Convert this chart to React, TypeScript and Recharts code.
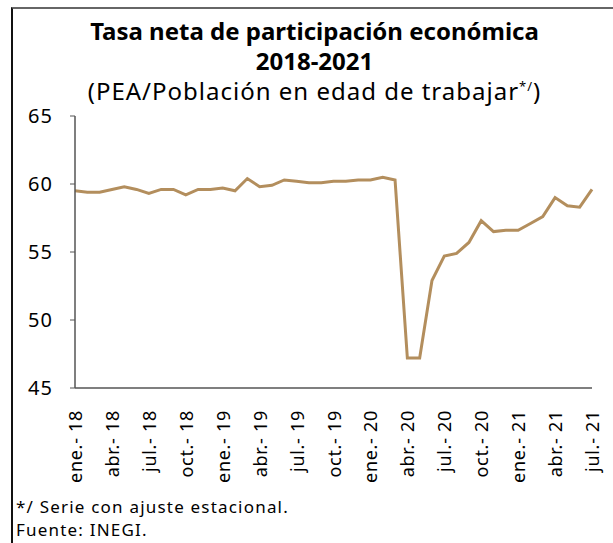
import React from "react";
import { LineChart, Line, XAxis, YAxis } from "recharts";

// meses ene-18 .. jul-21
const months = [
	"ene.- 18", "feb.- 18", "mar.- 18", "abr.- 18", "may.- 18", "jun.- 18",
	"jul.- 18", "ago.- 18", "sep.- 18", "oct.- 18", "nov.- 18", "dic.- 18",
	"ene.- 19", "feb.- 19", "mar.- 19", "abr.- 19", "may.- 19", "jun.- 19",
	"jul.- 19", "ago.- 19", "sep.- 19", "oct.- 19", "nov.- 19", "dic.- 19",
	"ene.- 20", "feb.- 20", "mar.- 20", "abr.- 20", "may.- 20", "jun.- 20",
	"jul.- 20", "ago.- 20", "sep.- 20", "oct.- 20", "nov.- 20", "dic.- 20",
	"ene.- 21", "feb.- 21", "mar.- 21", "abr.- 21", "may.- 21", "jun.- 21",
	"jul.- 21",
];

const tnpe = [
	59.5, 59.4, 59.4, 59.6, 59.8, 59.6, 59.3, 59.6, 59.6, 59.2, 59.6, 59.6,
	59.7, 59.5, 60.4, 59.8, 59.9, 60.3, 60.2, 60.1, 60.1, 60.2, 60.2, 60.3,
	60.3, 60.5, 60.3, 47.2, 47.2, 52.9, 54.7, 54.9, 55.7, 57.3, 56.5, 56.6,
	56.6, 57.1, 57.6, 59.0, 58.4, 58.3, 59.6,
];

const yTicks = [45, 50, 55, 60, 65];

const data = months.map((m, i) => ({ mes: m, valor: tnpe[i] }));

const FONT = "'Noto Sans', sans-serif";

const MonthTick = (props: any) => {
	const { x, y, payload } = props;
	const ty = y + 14;
	return (
		<text
			x={x}
			y={ty}
			transform={`rotate(-90 ${x} ${ty})`}
			textAnchor='end'
			dominantBaseline='central'
			fontSize={18}
			letterSpacing={0.7}
			fontFamily={FONT}
			fill='#000'>
			{payload.value}
		</text>
	);
};

const App = () => {
	return (
		<div
			style={{
				position: "absolute",
				left: 0,
				top: 0,
				width: 613,
				height: 543,
				background: "#fff",
				fontFamily: FONT,
				overflow: "hidden",
			}}>
			<div
				style={{
					position: "absolute",
					left: 11,
					top: 7,
					width: 610,
					height: 545,
					borderTop: "2px solid #666",
					borderLeft: "2px solid #111",
				}}
			/>
			<div
				style={{
					position: "absolute",
					left: 0,
					width: 629,
					top: 16,
					textAlign: "center",
					color: "#000",
				}}>
				<div style={{ fontSize: 24, fontWeight: 700, lineHeight: "30px" }}>
					Tasa neta de participación económica
				</div>
				<div style={{ fontSize: 24, fontWeight: 700, lineHeight: "30px" }}>
					2018-2021
				</div>
				<div style={{ fontSize: 24, lineHeight: "30px", letterSpacing: 1 }}>
					(PEA/Población en edad de trabajar
					<sup style={{ fontSize: 13, lineHeight: 0 }}>*/</sup>)
				</div>
			</div>
			<div style={{ position: "absolute", left: 0, top: 0 }}>
				<LineChart
					width={613}
					height={490}
					data={data}
					margin={{ top: 116, right: 21, left: 0, bottom: 0 }}>
					<XAxis
						dataKey='mes'
						interval={2}
						tickLine={false}
						axisLine={{ stroke: "#555", strokeWidth: 1.5 }}
						height={102}
						tick={<MonthTick />}
					/>
					<YAxis
						domain={[45, 65]}
						ticks={yTicks}
						width={75}
						tickSize={5}
						tickMargin={17}
						axisLine={{ stroke: "#555", strokeWidth: 1.5 }}
						tickLine={{ stroke: "#555" }}
						tick={{ fill: "#000", fontSize: 20, letterSpacing: 1, fontFamily: FONT }}
					/>
					<Line
						dataKey='valor'
						stroke='#B38E5D'
						strokeWidth={3}
						dot={false}
						isAnimationActive={false}
					/>
				</LineChart>
			</div>
			<div
				style={{
					position: "absolute",
					left: 16,
					top: 495,
					fontSize: 17,
					letterSpacing: 1.2,
					lineHeight: "23px",
					color: "#000",
				}}>
				<div>*/ Serie con ajuste estacional.</div>
				<div>Fuente: INEGI.</div>
			</div>
		</div>
	);
};

export default App;
